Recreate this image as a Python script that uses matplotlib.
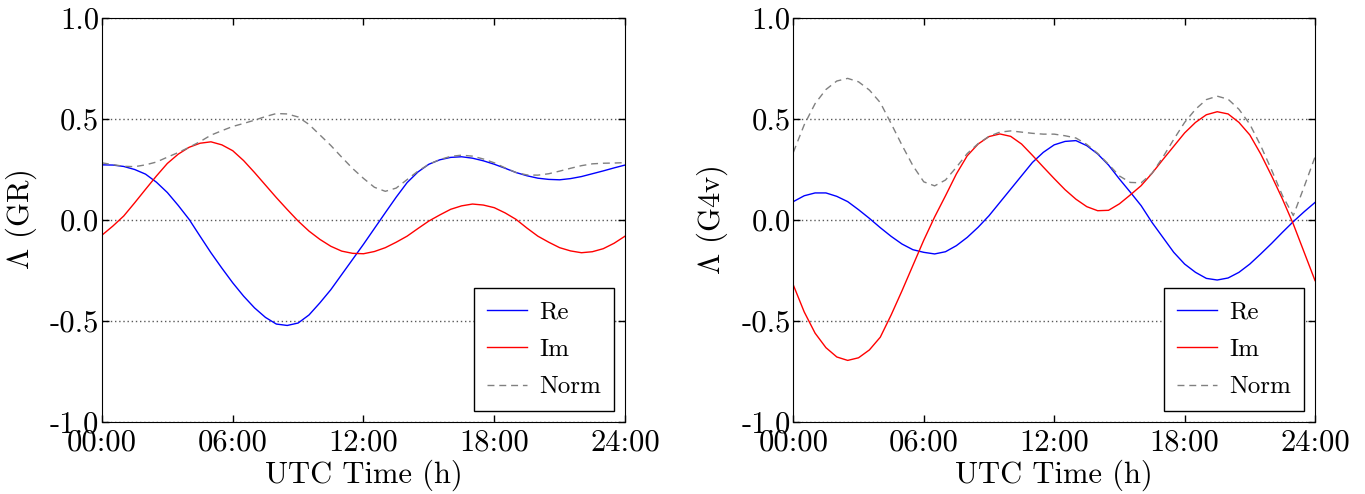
import numpy as np
import matplotlib
matplotlib.use("Agg")
from matplotlib import pyplot as plt

plt.rcParams["font.family"] = "cmr10"
plt.rcParams["mathtext.fontset"] = "cm"
plt.rcParams["axes.unicode_minus"] = False

# half-hourly samples, GR panel
t_gr = np.arange(0, 24.5, 0.5)
re_gr = [0.273, 0.272, 0.265, 0.250, 0.227, 0.187, 0.136, 0.072, 0.003, -0.080,
         -0.162, -0.238, -0.311, -0.377, -0.435, -0.482, -0.515, -0.522, -0.510, -0.470,
         -0.410, -0.345, -0.270, -0.195, -0.120, -0.042, 0.036, 0.113, 0.185, 0.238,
         0.276, 0.298, 0.310, 0.313, 0.306, 0.293, 0.276, 0.256, 0.235, 0.219,
         0.207, 0.201, 0.199, 0.205, 0.215, 0.229, 0.243, 0.258, 0.272]
im_gr = [-0.075, -0.030, 0.020, 0.085, 0.152, 0.218, 0.280, 0.326, 0.360, 0.380,
         0.387, 0.372, 0.343, 0.294, 0.235, 0.173, 0.111, 0.052, -0.005, -0.055,
         -0.096, -0.130, -0.154, -0.165, -0.167, -0.156, -0.137, -0.110, -0.080, -0.042,
         -0.005, 0.025, 0.053, 0.070, 0.079, 0.074, 0.061, 0.035, 0.003, -0.040,
         -0.080, -0.110, -0.137, -0.153, -0.162, -0.157, -0.142, -0.115, -0.080]
norm_gr = [0.283, 0.274, 0.266, 0.264, 0.273, 0.287, 0.311, 0.334, 0.360, 0.388,
           0.420, 0.442, 0.463, 0.478, 0.494, 0.512, 0.527, 0.525, 0.510, 0.473,
           0.421, 0.369, 0.311, 0.255, 0.206, 0.162, 0.142, 0.158, 0.200, 0.242,
           0.276, 0.299, 0.315, 0.321, 0.316, 0.302, 0.283, 0.258, 0.235, 0.223,
           0.222, 0.229, 0.242, 0.256, 0.269, 0.278, 0.281, 0.282, 0.284]

# half-hourly samples, G4v panel
t_g4v = np.arange(0, 24.5, 0.5)
re_g4v = [0.091, 0.120, 0.134, 0.134, 0.117, 0.091, 0.051, 0.008, -0.038, -0.081,
          -0.119, -0.147, -0.160, -0.168, -0.157, -0.127, -0.086, -0.036, 0.021, 0.087,
          0.153, 0.219, 0.285, 0.335, 0.372, 0.389, 0.393, 0.368, 0.327, 0.272,
          0.203, 0.138, 0.071, -0.012, -0.086, -0.160, -0.218, -0.259, -0.289, -0.297,
          -0.287, -0.259, -0.218, -0.168, -0.116, -0.061, -0.008, 0.041, 0.087]
im_g4v = [-0.322, -0.455, -0.560, -0.632, -0.678, -0.695, -0.682, -0.643, -0.580, -0.470,
          -0.350, -0.225, -0.100, 0.015, 0.120, 0.228, 0.318, 0.376, 0.413, 0.426,
          0.414, 0.376, 0.320, 0.262, 0.205, 0.150, 0.103, 0.066, 0.046, 0.048,
          0.080, 0.124, 0.170, 0.231, 0.299, 0.365, 0.431, 0.483, 0.521, 0.536,
          0.525, 0.483, 0.421, 0.327, 0.219, 0.104, -0.020, -0.160, -0.300]
norm_g4v = [0.335, 0.471, 0.576, 0.646, 0.688, 0.701, 0.684, 0.643, 0.581, 0.477,
            0.370, 0.269, 0.189, 0.169, 0.198, 0.261, 0.329, 0.378, 0.414, 0.435,
            0.441, 0.435, 0.429, 0.425, 0.425, 0.417, 0.406, 0.374, 0.330, 0.276,
            0.218, 0.186, 0.184, 0.231, 0.311, 0.399, 0.483, 0.548, 0.596, 0.613,
            0.598, 0.548, 0.474, 0.368, 0.248, 0.121, 0.022, 0.165, 0.312]

x_ticks = [0, 6, 12, 18, 24]
x_labels = ["00:00", "06:00", "12:00", "18:00", "24:00"]
y_ticks = [-1.0, -0.5, 0.0, 0.5, 1.0]
y_labels = ["-1.0", "-0.5", "0.0", "0.5", "1.0"]

fig = plt.figure(figsize=(13.65, 4.94), dpi=100)
ax1 = fig.add_axes([0.0747, 0.1457, 0.3832, 0.8179])
ax2 = fig.add_axes([0.5812, 0.1457, 0.3822, 0.8179])

panels = [(ax1, t_gr, re_gr, im_gr, norm_gr, r"$\Lambda$ (GR)"),
          (ax2, t_g4v, re_g4v, im_g4v, norm_g4v, r"$\Lambda$ (G4v)")]

for ax, t, re, im, nm, ylab in panels:
    ax.plot(t, re, color="blue", lw=1.0, label="Re")
    ax.plot(t, im, color="red", lw=1.0, label="Im")
    ax.plot(t, nm, color="0.5", lw=1.0, dashes=(5, 3.5), label="Norm")
    ax.set_xlim(0, 24)
    ax.set_ylim(-1, 1)
    ax.set_xticks(x_ticks)
    ax.set_xticklabels(x_labels)
    ax.set_yticks(y_ticks)
    ax.set_yticklabels(y_labels)
    ax.tick_params(direction="in", top=True, right=True, length=5, width=1,
                   labelsize=22)
    ax.tick_params(axis="y", pad=2)
    ax.tick_params(axis="x", pad=5)
    ax.grid(True, axis="y", color="0.35", linestyle=(0, (1, 2)), lw=1.0)
    ax.set_xlabel("UTC Time (h)", fontsize=22, labelpad=2)
    ax.set_ylabel(ylab, fontsize=22, labelpad=8)
    leg = ax.legend(loc="lower right", fontsize=18, fancybox=False,
                    framealpha=1, edgecolor="black", borderaxespad=0.45,
                    handlelength=1.6, handletextpad=0.5, labelspacing=0.6,
                    borderpad=0.5)
    leg.get_frame().set_linewidth(1.0)

fig.savefig("out.png", dpi=100)
